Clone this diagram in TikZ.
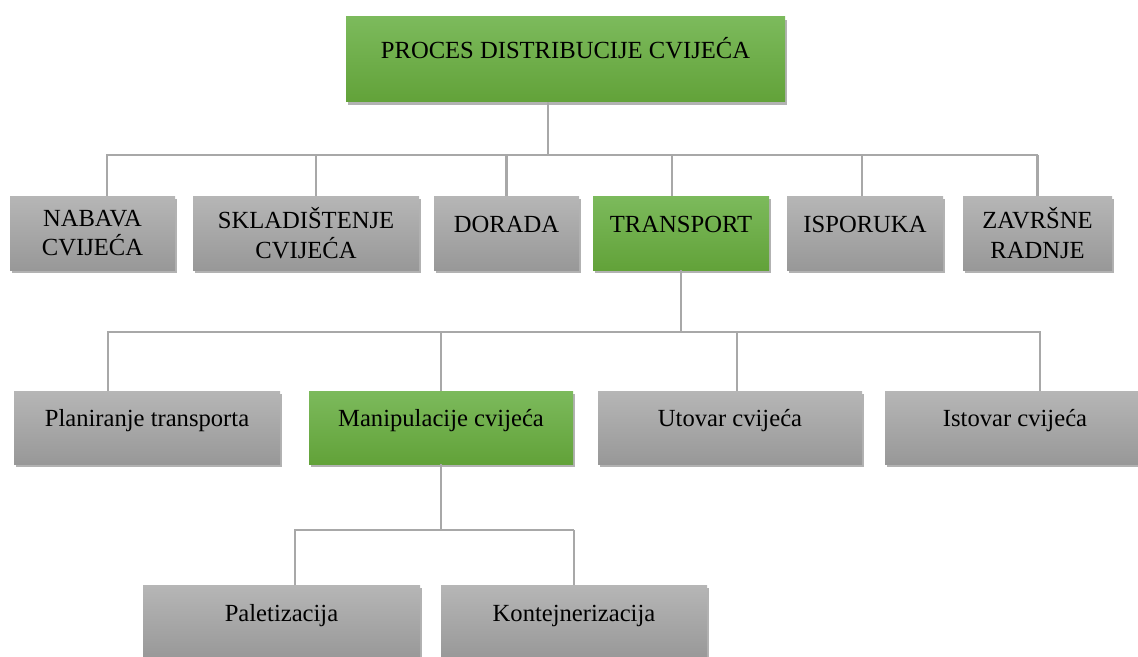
\documentclass[tikz,border=0pt]{standalone}
\usepackage{fontspec}
\setmainfont{Liberation Serif}
\usepackage{tikz}
\usetikzlibrary{shadows}
\usetikzlibrary{calc}
\definecolor{greentop}{RGB}{124,186,92}
\definecolor{greenbot}{RGB}{98,162,57}
\definecolor{graytop}{RGB}{182,182,182}
\definecolor{graybot}{RGB}{152,152,152}
\definecolor{linkgray}{RGB}{168,168,168}
\def\u{0.025cm}
\tikzstyle{tbox}=[rectangle, inner sep=2pt, align=center, font=\fontsize{17.5}{21}\selectfont, drop shadow={shadow xshift=1.5pt, shadow yshift=-2pt, opacity=0.3, fill=black}]
\tikzstyle{greenbox}=[tbox, top color=greentop, bottom color=greenbot]
\tikzstyle{graybox}=[tbox, top color=graytop, bottom color=graybot]
\tikzstyle{oneline}=[text height=0.45cm, text depth=0.5cm]
\tikzstyle{link}=[draw, line width=1.8pt, linkgray]
\tikzstyle{bus}=[link, line cap=rect]

\begin{document}
\begin{tikzpicture}[x=0.025cm, y=-0.025cm]
    \useasboundingbox (0,0) rectangle (1138,657);

    % top of the tree
    \node[greenbox, oneline, minimum width=439*\u, minimum height=85*\u] (top) at (565.5,59.5) {PROCES DISTRIBUCIJE CVIJEĆA};

    % second row
    \foreach \pos/\name/\w/\label in {{(92.5,233)/nab/165/{NABAVA\\CVIJEĆA}}, {(306,233)/skl/226/{SKLADIŠTENJE\\CVIJEĆA}}, {(1037.5,233)/zav/149/{ZAVRŠNE\\RADNJE}}}
        \node[graybox, minimum width=\w*\u, minimum height=74*\u] (\name) at \pos {\label};
    \foreach \pos/\name/\w/\label in {{(506.5,233)/dor/145/DORADA}, {(865,233)/isp/156/ISPORUKA}}
        \node[graybox, oneline, minimum width=\w*\u, minimum height=74*\u] (\name) at \pos {\label};
    \node[greenbox, oneline, minimum width=176*\u, minimum height=74*\u] (tra) at (681,233) {TRANSPORT};

    % third row
    \foreach \pos/\name/\w/\label in {{(147,427.5)/pla/266/Planiranje transporta}, {(730,427.5)/uto/264/Utovar cvijeća}, {(1015,427.5)/ist/260/Istovar cvijeća}}
        \node[graybox, oneline, minimum width=\w*\u, minimum height=73*\u] (\name) at \pos {\label};
    \node[greenbox, oneline, minimum width=264*\u, minimum height=73*\u] (man) at (441,427.5) {Manipulacije cvijeća};

    % fourth row
    \foreach \pos/\name/\w/\label in {{(281.5,622)/pal/277/Paletizacija}, {(574,622)/kon/266/Kontejnerizacija}}
        \node[graybox, oneline, minimum width=\w*\u, minimum height=74*\u] (\name) at \pos {\label};

    % bus lines
    \coordinate (busA1) at (107,155);
    \coordinate (busA2) at (1037,155);
    \coordinate (busB1) at (108,332);
    \coordinate (busB2) at (1040,332);
    \coordinate (busC1) at (295,530);
    \coordinate (busC2) at (573,530);
    \path[bus] (busA1) -- (busA2);
    \path[bus] (busB1) -- (busB2);
    \path[bus] (busC1) -- (busC2);

    % parents down to the bus
    \path[link] ($(top.south)+(-17.5,0)$) -- ($(top.south |- busA1)+(-17.5,0)$);
    \path[link] (tra.south) -- (tra.south |- busB1);
    \path[link] (man.south) -- (man.south |- busC1);

    % bus down to the children
    \foreach \name/\dx in {nab/14.5, skl/10, dor/0, tra/-9, isp/-3, zav/0}
        \path[link] ($(\name.north)+(\dx,0)$) -- ($(\name.north |- busA1)+(\dx,0)$);
    \foreach \name/\dx in {pla/-39, man/0, uto/7, ist/25}
        \path[link] ($(\name.north)+(\dx,0)$) -- ($(\name.north |- busB1)+(\dx,0)$);
    \foreach \name/\dx in {pal/13.5, kon/0}
        \path[link] ($(\name.north)+(\dx,0)$) -- ($(\name.north |- busC1)+(\dx,0)$);
\end{tikzpicture}
\end{document}
